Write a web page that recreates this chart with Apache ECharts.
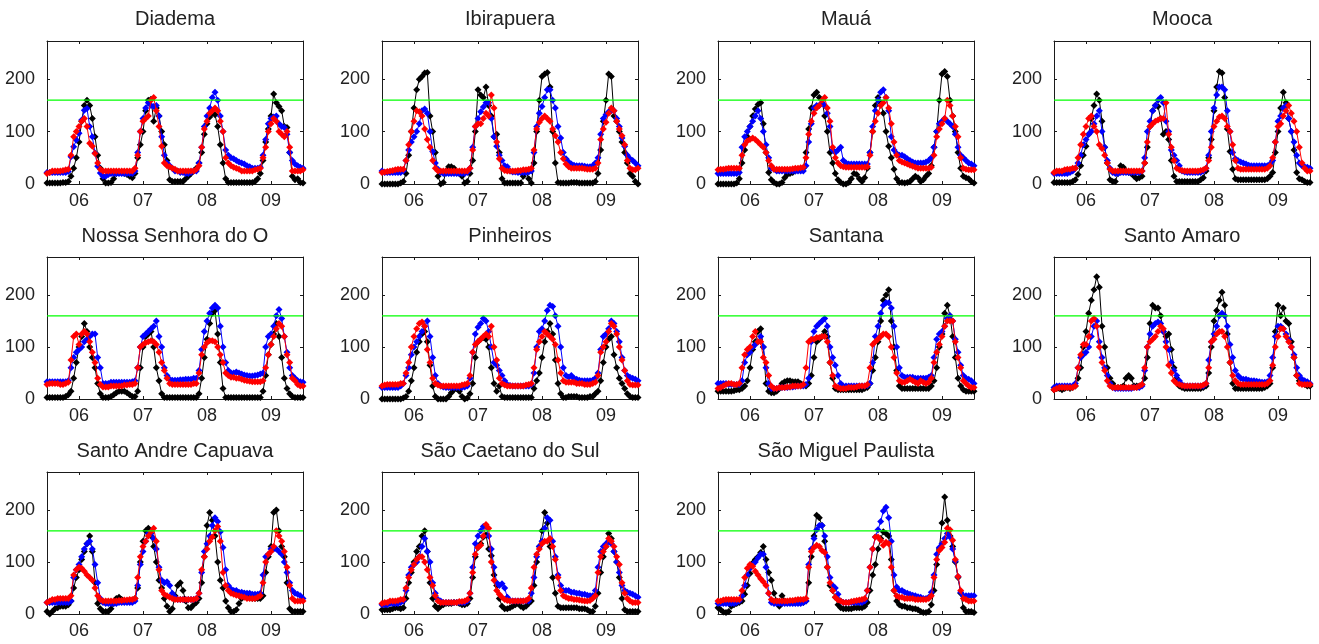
<!DOCTYPE html>
<html>
<head>
<meta charset="utf-8">
<script src="https://cdn.jsdelivr.net/npm/echarts@6/dist/echarts.min.js"></script>
<style>html,body{margin:0;padding:0;background:#fff}#c{width:1319px;height:644px}</style>
</head>
<body>
<div id="c"></div>
<script>
// time axis: hourly samples from day 5 12:00 to day 9 12:00
const X_START = 5.5, X_END = 9.5, STEP = 1 / 24;
const Y_MAX = 273;
const THRESHOLD = 160;
const X_TICKS = [6, 7, 8, 9];
const X_TICK_LABELS = ['06', '07', '08', '09'];
const Y_TICKS = [0, 100, 200];
const STATIONS = ['Diadema', 'Ibirapuera', 'Mauá', 'Mooca', 'Nossa Senhora do O', 'Pinheiros',
  'Santana', 'Santo Amaro', 'Santo Andre Capuava', 'São Caetano do Sul', 'São Miguel Paulista'];

const diademaBlack = [2,2,2,2,2,2,3,3,5,15,30,50, 80,120,150,160,150,125,90,55,30,10,2,2,3,10,20,22,22,20,18,15,12,20,50,75, 100,140,160,162,120,145,130,100,75,45,8,5,5,5,5,5,10,15,20,25,30,40,60,95, 115,128,135,132,110,75,40,10,3,3,3,3,3,3,3,3,3,3,5,10,20,45,80,105, 130,172,155,148,140,110,108,60,15,8,10,3,2];
const diademaBlue = [22,22,22,22,22,22,22,22,24,52,71,84, 97,122,141,144,110,90,59,34,21,15,15,18,20,20,20,20,20,20,20,20,20,25,60,100, 125,145,155,150,148,150,130,90,55,40,35,30,25,25,22,22,20,20,22,25,25,40,70,110, 130,145,165,175,160,130,100,65,55,50,48,45,42,40,38,35,33,30,30,30,32,55,85,115, 125,128,130,115,110,108,95,60,45,38,35,32,30];
const diademaRed = [20,22,25,25,25,25,26,27,28,55,90,100, 110,120,125,110,78,72,58,40,28,25,25,25,25,25,25,25,25,25,25,25,25,30,55,100, 120,125,130,160,165,140,110,72,40,35,33,30,28,25,25,25,25,25,25,25,28,35,70,105, 120,135,140,145,140,120,100,50,40,35,32,30,28,25,25,25,25,25,27,28,30,50,70,100, 115,125,120,100,95,90,100,70,25,25,25,25,27];

const ibirapueraBlack = [0,0,0,0,0,0,0,2,5,20,55,100, 145,180,200,205,212,213,130,100,60,15,0,3,25,33,33,30,22,20,15,2,5,20,45,100, 180,170,165,185,150,130,90,95,60,10,2,2,2,2,2,2,2,15,25,10,2,40,100,160, 205,210,213,185,100,40,3,2,2,2,2,3,3,3,2,2,2,2,2,2,5,20,65,120, 160,210,205,130,120,100,80,60,40,20,15,5,0];
const ibirapueraBlue = [25,22,22,22,22,22,22,22,25,45,65,80, 90,100,115,140,143,135,100,62,40,28,22,20,20,20,20,20,20,20,20,20,22,30,70,110, 125,138,147,155,155,125,90,72,55,45,35,33,25,23,23,22,22,22,22,23,25,60,110,135, 148,165,180,180,160,145,110,88,60,48,42,38,36,35,35,35,34,33,33,35,40,50,95,125, 132,138,140,140,125,110,88,72,55,48,45,40,35];
const ibirapueraRed = [22,23,24,25,26,27,28,28,28,45,75,100, 120,140,138,130,105,85,70,45,30,25,25,25,25,25,25,25,25,25,25,25,25,30,65,110, 115,115,125,135,130,170,145,80,48,30,26,25,25,25,25,26,26,27,27,28,30,65,105,118, 125,130,125,120,105,92,80,60,48,38,33,30,30,30,30,30,29,28,28,28,30,40,85,105, 118,135,145,140,120,105,92,75,45,30,27,27,30];

const mauaBlack = [0,0,0,0,0,0,0,2,10,40,65,90, 110,130,143,152,155,115,60,22,8,3,0,0,3,12,18,20,22,25,28,28,30,60,105,145, 170,175,165,160,130,100,60,40,20,8,3,0,0,3,10,20,18,10,5,12,30,60,100,150, 165,155,135,100,72,50,28,10,3,3,2,3,5,10,15,12,5,8,15,20,35,70,100,160, 210,215,205,160,130,100,60,30,15,12,10,5,2];
const mauaBlue = [20,20,20,20,20,20,20,20,22,70,90,100, 110,120,130,140,125,100,75,50,30,28,25,25,25,25,25,25,25,25,25,25,25,35,80,115, 145,150,150,155,150,135,110,65,60,65,70,45,40,38,38,38,38,38,38,38,38,60,110,140, 160,175,180,165,140,90,65,58,55,55,52,48,45,42,40,40,40,40,42,45,50,70,100,115, 120,125,120,115,110,95,70,55,50,45,40,38,35];
const mauaRed = [27,28,28,29,30,30,30,30,30,55,75,82, 85,88,85,80,75,70,60,45,35,28,28,28,28,28,28,28,29,30,30,31,32,50,95,120, 135,145,150,160,165,145,120,70,50,40,35,33,32,32,32,32,32,32,32,32,33,55,100,120, 135,150,155,165,145,115,80,55,45,42,40,38,36,34,32,30,30,30,30,30,32,55,90,105, 115,125,160,150,130,110,90,50,30,28,27,27,27];

const moocaBlack = [3,3,3,3,3,3,3,5,8,18,35,55, 72,95,125,150,172,160,120,70,40,8,5,5,20,35,32,25,22,20,15,10,12,15,40,70, 110,140,150,148,125,95,100,85,45,15,5,5,5,5,5,5,5,5,5,8,12,25,50,85, 140,185,215,212,165,105,62,28,10,8,8,8,8,8,8,8,8,8,8,8,10,15,22,60, 100,145,175,155,125,100,65,22,10,8,5,3,3];
const moocaBlue = [20,20,20,20,20,20,22,25,30,40,55,75, 85,95,100,115,130,140,100,70,45,30,22,20,20,22,22,22,22,22,22,22,22,25,50,100, 120,140,150,160,165,155,120,100,65,55,45,35,25,23,22,22,22,22,22,22,25,30,55,100, 145,170,185,185,180,140,100,60,48,45,42,40,38,36,35,35,35,35,35,35,35,38,45,80, 120,130,145,150,125,100,80,55,40,35,33,32,30];
const moocaRed = [22,25,25,25,27,28,28,30,30,50,75,95, 110,125,130,110,100,75,68,55,40,28,25,25,25,25,25,25,25,25,25,25,25,25,40,80, 110,115,120,122,125,125,155,95,70,45,30,27,26,25,25,25,25,25,25,26,27,30,45,70, 110,120,128,130,125,110,100,75,45,30,28,28,28,28,28,28,28,28,28,28,30,35,50,80, 110,115,130,140,150,135,120,100,70,40,30,25,25];

const nsoBlack = [3,3,3,3,3,3,3,5,8,15,40,70, 100,120,145,130,100,80,60,30,10,3,3,3,5,8,12,15,15,15,12,8,5,5,15,60, 100,120,125,130,100,60,35,10,3,3,3,3,3,3,3,3,3,3,3,3,3,10,40,80, 115,145,165,170,125,70,20,3,3,3,3,3,3,3,3,3,3,3,3,3,3,15,45,85, 105,125,145,120,80,40,20,10,5,3,3,3,3];
const nsoBlue = [33,33,33,33,33,33,33,33,35,60,80,90, 95,100,110,115,120,125,125,80,60,30,30,30,32,32,32,32,32,32,32,32,33,35,60,100, 120,125,130,135,140,150,120,100,60,45,38,36,36,36,37,37,38,38,38,40,40,55,95,130, 150,165,175,180,175,140,100,70,55,50,50,52,50,48,46,45,44,44,45,46,48,50,100,120, 125,140,160,172,155,120,90,60,45,40,35,33,32];
const nsoRed = [28,30,30,30,30,28,28,30,32,75,120,125, 105,125,130,125,110,90,70,40,28,23,23,23,25,25,25,25,25,27,27,28,28,30,60,100, 105,108,110,112,110,105,90,70,55,40,30,28,28,28,28,28,28,28,28,30,30,50,85,100, 108,112,112,110,100,85,70,50,45,42,42,40,40,38,36,35,34,33,33,33,33,35,60,85, 105,120,135,145,140,120,85,70,40,35,28,25,25];

const pinheirosBlack = [0,0,0,0,0,0,0,0,2,5,15,35, 60,90,110,125,130,110,65,25,5,0,0,0,0,5,12,18,20,15,5,0,2,10,30,80, 110,115,118,115,100,60,30,15,25,5,3,3,3,3,3,3,3,3,3,3,3,20,35,50, 80,110,130,145,125,75,30,10,3,3,5,5,5,5,3,3,3,3,5,5,10,15,35,70, 100,115,120,85,60,40,30,20,10,5,3,3,3];
const pinheirosBlue = [22,22,22,22,22,22,22,25,30,45,60,85, 100,110,120,130,140,150,120,80,45,30,25,23,22,22,22,22,22,22,22,23,25,40,90,125, 138,145,155,150,130,100,70,65,55,45,35,28,26,25,25,25,25,25,25,25,28,50,100,130, 135,150,170,180,178,160,140,100,60,45,42,45,40,38,36,35,35,35,35,36,40,50,95,120, 125,135,150,145,130,110,80,55,45,42,40,38,35];
const pinheirosRed = [25,27,28,28,28,28,28,30,30,50,70,100, 120,135,145,148,140,95,70,40,30,27,25,25,25,25,25,25,25,25,27,28,30,45,90,105, 110,115,120,125,120,140,100,75,40,30,27,25,25,25,25,25,25,25,27,28,30,60,95,110, 120,130,125,120,115,105,75,50,35,32,32,32,32,30,30,30,28,28,28,30,32,45,90,100, 110,130,145,140,125,100,75,55,35,28,27,27,27];

const santanaBlack = [15,15,15,15,15,15,16,18,18,20,25,35, 60,95,110,130,135,100,30,15,12,12,15,20,30,33,35,35,33,33,33,30,28,25,30,45, 80,110,115,120,130,120,70,40,20,18,18,18,18,18,18,18,18,18,18,20,22,30,55,80, 110,150,190,200,210,150,100,55,25,20,20,20,20,20,20,20,20,20,20,20,25,35,60,100, 125,165,180,160,120,80,40,25,18,15,15,15,15];
const santanaBlue = [30,30,30,30,28,28,28,28,28,35,70,85, 90,100,105,110,120,100,60,30,20,20,20,22,22,22,22,23,23,24,25,25,25,28,40,110, 130,140,145,150,155,140,100,80,65,45,30,25,25,25,25,25,25,25,25,25,26,30,70,120, 140,165,180,185,185,175,140,100,60,45,42,42,42,42,40,40,40,40,40,42,45,80,115,125, 130,140,155,160,150,115,90,65,45,40,38,35,30];
const santanaRed = [20,22,25,28,30,30,28,28,30,60,85,95, 100,120,130,110,110,80,70,45,25,20,20,22,22,22,23,23,25,25,25,25,28,60,110,115, 115,118,118,120,120,110,70,45,25,22,20,20,20,22,22,22,23,25,25,25,28,60,105,110, 115,120,125,125,120,100,80,50,35,32,32,35,38,35,32,30,35,32,30,32,40,70,90,105, 120,140,150,150,150,110,80,60,35,30,25,22,22];

const santoAmaroBlack = [18,20,20,18,20,22,20,22,25,40,60,100, 130,165,190,210,235,215,140,100,60,40,30,22,22,22,25,40,45,40,25,25,25,28,40,80, 145,180,175,175,160,130,120,125,95,60,40,25,22,20,20,20,20,20,20,20,22,25,50,100, 150,170,190,205,180,125,70,30,20,20,20,20,20,20,20,20,20,20,20,22,25,30,60,130, 180,160,175,150,145,110,80,45,35,30,28,25,25];
const santoAmaroBlue = [22,25,25,25,25,25,25,25,30,60,80,85, 90,100,120,140,150,110,80,60,45,30,22,20,20,20,20,20,20,20,22,22,22,25,55,100, 125,140,145,148,145,130,110,95,70,55,45,35,28,25,25,25,25,25,25,25,25,30,75,110, 125,140,160,165,160,140,105,80,55,45,40,38,38,36,35,35,34,33,32,32,33,45,80,120, 140,140,135,125,115,100,85,60,45,38,35,33,30];
const santoAmaroRed = [18,20,22,22,22,22,22,22,25,60,85,105, 105,120,150,155,140,100,70,55,35,25,22,22,22,22,22,22,22,22,22,22,25,28,60,100, 110,115,120,130,140,135,100,65,50,35,30,28,26,25,25,25,25,25,25,25,27,30,60,110, 115,125,130,130,120,100,70,45,35,30,28,28,28,28,28,28,28,28,28,28,30,35,65,100, 120,135,135,120,110,100,80,45,30,28,28,28,28];

const capuavaBlack = [5,0,5,10,12,15,15,15,18,25,50,70, 85,105,120,135,150,120,60,20,10,5,5,5,10,20,30,32,28,25,25,25,25,30,50,100, 140,160,165,150,130,100,65,50,30,15,5,10,35,55,60,45,25,12,12,18,22,30,60,110, 170,195,180,150,100,65,50,25,12,5,5,8,20,30,40,38,32,30,30,30,30,35,80,110, 130,195,200,160,130,110,60,10,5,5,5,5,5];
const capuavaBlue = [22,22,22,22,22,22,22,22,22,25,70,85, 95,110,125,135,140,125,95,60,30,22,20,20,20,20,20,22,22,22,22,22,22,25,55,95, 120,140,155,155,145,125,90,65,60,62,55,40,32,28,28,28,28,28,28,28,30,40,80,120, 135,150,170,185,178,158,128,85,55,48,45,45,42,42,40,40,40,38,38,38,40,75,110,115, 125,125,125,120,115,100,80,60,45,40,38,35,30];
const capuavaRed = [22,25,28,28,30,30,30,30,30,35,75,85, 90,88,82,75,70,65,50,35,28,25,25,25,25,25,25,26,26,27,27,28,28,30,70,110, 130,140,150,158,165,140,85,45,38,35,32,30,28,28,28,28,28,28,28,28,30,40,85,110, 125,140,148,160,168,140,80,55,45,40,38,36,35,33,32,30,30,30,30,32,35,60,100,115, 120,130,160,150,140,120,90,55,30,25,25,25,25];

const caetanoBlack = [8,8,8,8,10,12,12,10,12,30,60,80, 100,120,130,150,160,120,60,30,15,10,15,18,20,20,20,22,22,20,18,18,20,30,70,110, 128,135,148,152,125,112,75,55,30,15,10,10,12,15,18,20,15,12,15,20,25,55,100,130, 160,195,175,130,70,40,15,12,12,12,12,12,12,12,10,10,10,8,5,5,15,40,80,110, 130,155,145,120,100,70,30,8,5,5,5,5,5];
const caetanoBlue = [18,18,18,20,20,20,20,22,25,45,75,90, 95,100,110,130,145,120,100,60,40,28,25,22,22,22,22,22,22,22,22,22,25,40,90,135, 150,160,168,168,150,125,90,60,55,58,50,32,26,25,25,25,25,25,25,25,40,70,110,130, 140,165,185,180,140,110,75,55,45,45,45,42,42,40,40,38,38,36,35,35,45,90,120,130, 135,140,135,120,100,80,55,45,42,40,38,35,32];
const caetanoRed = [20,22,22,25,25,25,26,28,28,50,70,85, 95,105,110,110,100,85,70,55,35,25,22,22,22,22,22,22,22,24,24,25,28,40,80,115, 128,132,150,172,165,100,65,45,38,32,28,26,25,25,25,25,25,25,26,30,50,90,115,125, 135,140,140,145,130,105,70,45,35,32,30,30,28,28,27,26,25,25,26,30,35,80,110,120, 130,145,140,130,110,95,60,40,30,25,22,22,22];

const miguelBlack = [12,8,4,3,5,15,18,20,22,25,38,55, 78,98,105,110,118,130,105,80,65,40,25,15,35,25,22,22,22,22,22,22,22,25,60,110, 150,190,185,170,140,90,55,45,32,18,12,10,10,10,10,12,12,12,12,15,22,45,75,95, 125,145,158,155,150,105,45,25,18,15,15,12,12,10,10,8,5,3,3,5,18,45,95,125, 175,225,180,150,130,100,70,40,12,5,5,5,3];
const miguelBlue = [20,20,20,20,20,20,20,22,25,35,55,75, 88,95,100,108,115,115,90,40,22,20,20,20,20,20,20,20,20,20,20,20,22,25,95,125, 145,162,170,170,150,110,70,55,50,38,25,22,22,22,22,22,22,22,22,25,45,90,125,148, 162,178,198,205,185,140,75,52,45,45,42,40,38,36,35,33,32,30,30,32,42,75,115,128, 135,145,155,148,125,102,72,42,35,35,35,35,35];
const miguelRed = [25,25,27,28,28,28,28,28,28,45,70,88, 95,92,82,75,68,62,55,40,28,25,25,25,25,25,25,26,26,27,28,28,28,30,90,120, 128,132,130,122,118,90,60,45,32,27,25,22,22,22,24,25,26,27,28,30,45,90,125,148, 148,142,132,138,135,90,45,35,32,32,30,30,30,30,28,28,28,28,28,30,35,70,105,122, 128,138,165,162,142,105,72,45,30,28,25,25,25];

const PANEL_SERIES = [
  [diademaBlack, diademaBlue, diademaRed],
  [ibirapueraBlack, ibirapueraBlue, ibirapueraRed],
  [mauaBlack, mauaBlue, mauaRed],
  [moocaBlack, moocaBlue, moocaRed],
  [nsoBlack, nsoBlue, nsoRed],
  [pinheirosBlack, pinheirosBlue, pinheirosRed],
  [santanaBlack, santanaBlue, santanaRed],
  [santoAmaroBlack, santoAmaroBlue, santoAmaroRed],
  [capuavaBlack, capuavaBlue, capuavaRed],
  [caetanoBlack, caetanoBlue, caetanoRed],
  [miguelBlack, miguelBlue, miguelRed]
];
const SERIES_COLORS = ['#000000', '#0000ff', '#ff0000'];
const THRESHOLD_COLOR = '#00ff00';

// ---- layout ----
const FONT = "'Liberation Sans', Arial, Helvetica, sans-serif";
const COL_LEFT = [47, 382, 718, 1054];
const ROW_TOP = [41, 257, 472];
const ROW_H = [143, 142, 142];
const TITLE_TOP = [9, 226, 441];
const GRID_W = 256;
const AXIS_COLOR = '#1a1a1a';
const TEXT_COLOR = '#222222';

const grids = [], xAxes = [], yAxes = [], titles = [], series = [];
const toPoints = arr => arr.map((v, i) => [X_START + i * STEP, v]);

STATIONS.forEach((name, k) => {
  const r = Math.floor(k / 4), c = k % 4;
  grids.push({ left: COL_LEFT[c], top: ROW_TOP[r], width: GRID_W, height: ROW_H[r], show: false, containLabel: false });
  titles.push({
    text: name, left: COL_LEFT[c] + GRID_W / 2, top: TITLE_TOP[r], textAlign: 'center', padding: 0,
    textStyle: { fontFamily: FONT, fontSize: 20, fontWeight: 'normal', color: TEXT_COLOR }
  });
  const lineStyle = { color: AXIS_COLOR, width: 1 };
  ['bottom', 'top'].forEach(pos => {
    xAxes.push({
      gridIndex: k, type: 'value', min: X_START, max: X_END, position: pos,
      axisLine: { show: true, onZero: false, lineStyle },
      axisTick: { show: true, inside: true, length: 3, customValues: X_TICKS, lineStyle },
      axisLabel: {
        show: pos === 'bottom', customValues: X_TICKS, margin: 8,
        fontFamily: FONT, fontSize: 18, color: TEXT_COLOR,
        formatter: v => X_TICK_LABELS[X_TICKS.indexOf(Math.round(v))]
      },
      splitLine: { show: false }
    });
  });
  ['left', 'right'].forEach(pos => {
    yAxes.push({
      gridIndex: k, type: 'value', min: 0, max: Y_MAX, position: pos,
      axisLine: { show: true, onZero: false, lineStyle },
      axisTick: { show: true, inside: true, length: 3, customValues: Y_TICKS, lineStyle },
      axisLabel: {
        show: pos === 'left', customValues: Y_TICKS, margin: 12,
        fontFamily: FONT, fontSize: 18, color: TEXT_COLOR
      },
      splitLine: { show: false }
    });
  });
  PANEL_SERIES[k].forEach((arr, s) => {
    series.push({
      type: 'line', xAxisIndex: 2 * k, yAxisIndex: 2 * k, data: toPoints(arr),
      symbol: 'diamond', symbolSize: 7, showSymbol: true, showAllSymbol: true,
      lineStyle: { color: SERIES_COLORS[s], width: 1 },
      itemStyle: { color: SERIES_COLORS[s], borderWidth: 0 },
      emphasis: { disabled: true }, silent: true, z: 2 + s
    });
  });
  // threshold reference line across the full time range
  series.push({
    type: 'line', xAxisIndex: 2 * k, yAxisIndex: 2 * k,
    data: [[X_START, THRESHOLD], [X_END, THRESHOLD]],
    symbol: 'none', showSymbol: false,
    lineStyle: { color: THRESHOLD_COLOR, width: 1.2 },
    itemStyle: { color: THRESHOLD_COLOR },
    emphasis: { disabled: true }, silent: true, z: 6
  });
});

const chart = echarts.init(document.getElementById('c'), null, { renderer: 'canvas' });
chart.setOption({
  backgroundColor: '#ffffff',
  animation: false,
  title: titles, grid: grids, xAxis: xAxes, yAxis: yAxes, series: series
});
</script>
</body>
</html>
